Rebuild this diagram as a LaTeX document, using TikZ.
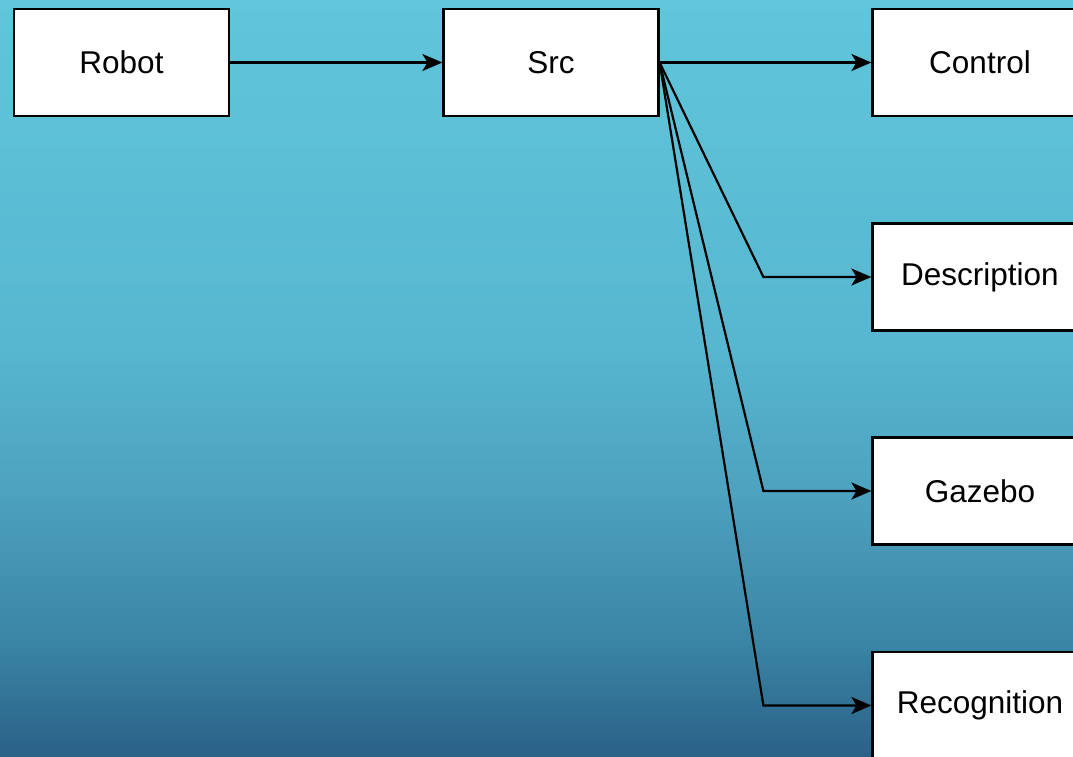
\documentclass[tikz,border=0pt]{standalone}
\usepackage{fontspec}
\setmainfont{Liberation Sans}
\usepackage{xcolor}
\usepackage{tikz}
\usetikzlibrary{arrows.meta}

\definecolor{bgtop}{HTML}{60C6DB}
\definecolor{bgupper}{HTML}{57B7D0}
\definecolor{bgmid}{HTML}{4DA2BF}
\definecolor{bglower}{HTML}{3A84A4}
\definecolor{bgbottom}{HTML}{2A6187}
\pgfdeclareverticalshading{bgsky}{100bp}{%
  color(0bp)=(bgbottom); color(25bp)=(bgbottom); color(32.5bp)=(bglower);
  color(42.5bp)=(bgmid); color(52.5bp)=(bgupper); color(75bp)=(bgtop);
  color(100bp)=(bgtop)}

\tikzset{
  folder/.style={draw=black, fill=white, line width=2.2pt, minimum width=215pt,
    minimum height=107pt, inner sep=0pt, font=\fontsize{31.5}{36}\selectfont},
  link/.style={line width=2.2pt, -{Stealth[length=20pt, width=17pt, inset=5pt]}}
}

\begin{document}
\begin{tikzpicture}[x=1pt, y=-1pt]
  \useasboundingbox (0,0) rectangle (1073,757);
  \clip (0,0) rectangle (1073,757);
  \shade[shading=bgsky] (0,0) rectangle (1073,757);

  \node[folder] (robot)       at (121.5,62.5) {Robot};
  \node[folder] (src)         at (551,62.5)   {Src};
  \node[folder] (control)     at (980,62.5)   {Control};
  \node[folder] (description) at (980,277)    {Description};
  \node[folder] (gazebo)      at (980,491)    {Gazebo};
  \node[folder] (recognition) at (980,705.5)  {Recognition};

  \draw[link] (robot) -- (src);
  \draw[link] (src.east) -- (control.west);
  \draw[link] (src.east) -- ([xshift=-108pt]description.west) -- (description.west);
  \draw[link] (src.east) -- ([xshift=-108pt]gazebo.west) -- (gazebo.west);
  \draw[link] (src.east) -- ([xshift=-108pt]recognition.west) -- (recognition.west);
\end{tikzpicture}
\end{document}
